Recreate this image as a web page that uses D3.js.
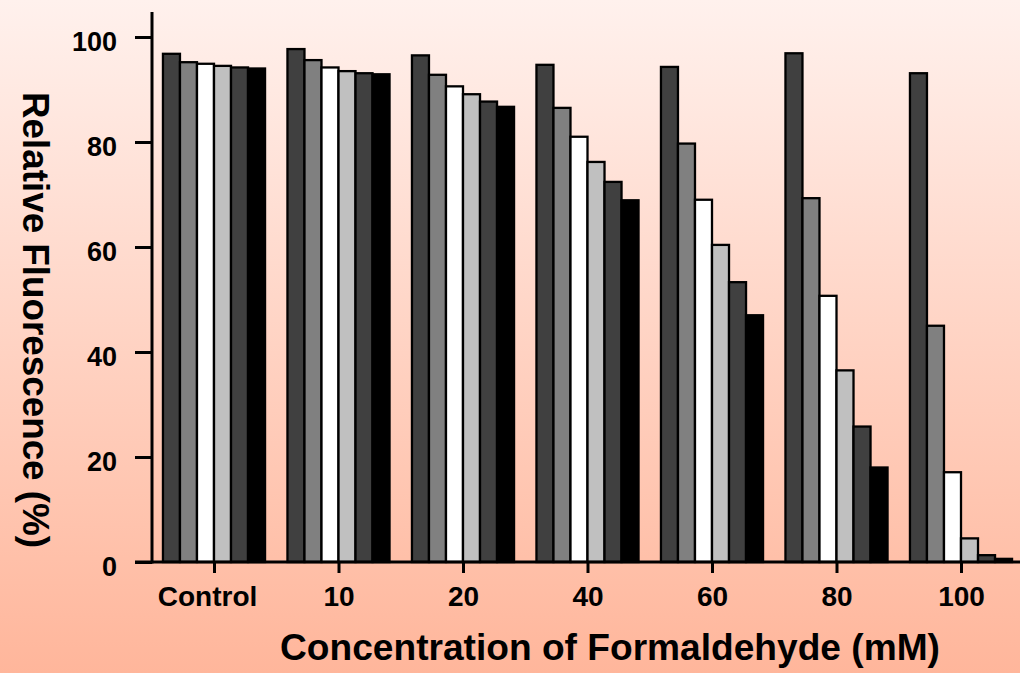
<!DOCTYPE html>
<html>
<head>
<meta charset="utf-8">
<script src="https://cdn.jsdelivr.net/npm/d3@7"></script>
<style>
  html, body { margin: 0; padding: 0; }
  svg { display: block; }
  text { font-family: "Liberation Sans", Arial, sans-serif; font-weight: bold; fill: #000; }
</style>
</head>
<body>
<svg id="chart" width="1020" height="673"></svg>
<script>
const categories = ["Control", "10", "20", "40", "60", "80", "100"];
const seriesNames = ["s1", "s2", "s3", "s4", "s5", "s6"];
const seriesColors = ["#404040", "#808080", "#ffffff", "#c0c0c0", "#404040", "#000000"];
const s1 = [96.8, 97.7, 96.5, 94.7, 94.3, 96.9, 93.1];
const s2 = [95.2, 95.6, 92.8, 86.5, 79.7, 69.3, 45.0];
const s3 = [94.9, 94.2, 90.6, 81.0, 69.0, 50.7, 17.1];
const s4 = [94.5, 93.5, 89.1, 76.2, 60.4, 36.5, 4.5];
const s5 = [94.2, 93.1, 87.7, 72.4, 53.3, 25.8, 1.3];
const s6 = [94.0, 92.9, 86.7, 68.9, 47.0, 18.0, 0.6];
const seriesValues = [s1, s2, s3, s4, s5, s6];
const yTicks = [0, 20, 40, 60, 80, 100];
const xTitle = "Concentration of Formaldehyde (mM)";
const yTitle = "Relative Fluorescence (%)";

const svg = d3.select("#chart");
const W = 1020, H = 673;

// background gradient
const defs = svg.append("defs");
const grad = defs.append("linearGradient").attr("id", "bg").attr("x1", 0).attr("y1", 0).attr("x2", 0).attr("y2", 1);
grad.append("stop").attr("offset", "0%").attr("stop-color", "#fff1ed");
grad.append("stop").attr("offset", "100%").attr("stop-color", "#ffb69b");
svg.append("rect").attr("width", W).attr("height", H).attr("fill", "url(#bg)");

const axisX = 152, baseY = 562;
const y = d3.scaleLinear().domain([0, 100]).range([baseY, 37]);
const x0 = d3.scaleBand().domain(categories).range([151.75, 151.75 + 7 * 124.5])
  .paddingInner(0.18).paddingOuter(0.09);
const x1 = d3.scaleBand().domain(seriesNames).range([0, x0.bandwidth()]).padding(0);

// bars
const groups = svg.append("g").selectAll("g").data(categories).join("g")
  .attr("transform", d => `translate(${x0(d)},0)`);
groups.selectAll("rect")
  .data((c, ci) => seriesNames.map((s, si) => ({ s, si, v: seriesValues[si][ci] })))
  .join("rect")
  .attr("x", d => x1(d.s))
  .attr("y", d => y(d.v))
  .attr("width", x1.bandwidth())
  .attr("height", d => baseY - y(d.v))
  .attr("fill", d => seriesColors[d.si])
  .attr("stroke", "#000")
  .attr("stroke-width", 2.3);

// y axis
const yAxis = d3.axisLeft(y).tickValues(yTicks).tickSize(17).tickPadding(18).tickFormat(d3.format("d"));
const gy = svg.append("g").attr("transform", `translate(${axisX},0)`).call(yAxis);
gy.select(".domain").remove();
gy.append("line").attr("x1", 0).attr("x2", 0).attr("y1", 12).attr("y2", baseY + 1.5)
  .attr("stroke", "#000").attr("stroke-width", 3);
gy.selectAll(".tick line").attr("stroke", "#000").attr("stroke-width", 3);
gy.selectAll(".tick text").attr("font-size", 27).attr("font-family", "Liberation Sans, Arial, sans-serif")
  .attr("font-weight", "bold").attr("fill", "#000").attr("dy", "0.5em");

// x axis
const xAxis = d3.axisBottom(d3.scalePoint().domain(categories)
  .range([x0(categories[0]) + x0.bandwidth() / 2, x0(categories[6]) + x0.bandwidth() / 2]))
  .tickSize(11).tickPadding(13);
const gx = svg.append("g").attr("transform", `translate(0,${baseY})`).call(xAxis);
gx.select(".domain").remove();
gx.append("line").attr("x1", 135).attr("x2", W).attr("y1", 0).attr("y2", 0)
  .attr("stroke", "#000").attr("stroke-width", 3);
gx.selectAll(".tick line").attr("stroke", "#000").attr("stroke-width", 3);
gx.selectAll(".tick text").attr("font-size", 28).attr("font-family", "Liberation Sans, Arial, sans-serif")
  .attr("font-weight", "bold").attr("fill", "#000")
  .attr("dx", d => d === "Control" ? -7 : 0);

// titles
svg.append("text").attr("x", 610).attr("y", 660).attr("text-anchor", "middle")
  .attr("font-size", 37).attr("textLength", 660).attr("lengthAdjust", "spacingAndGlyphs")
  .text(xTitle);
svg.append("text").attr("transform", "translate(23,320) rotate(90)").attr("text-anchor", "middle")
  .attr("font-size", 36).attr("textLength", 456).attr("lengthAdjust", "spacingAndGlyphs")
  .text(yTitle);
</script>
</body>
</html>
